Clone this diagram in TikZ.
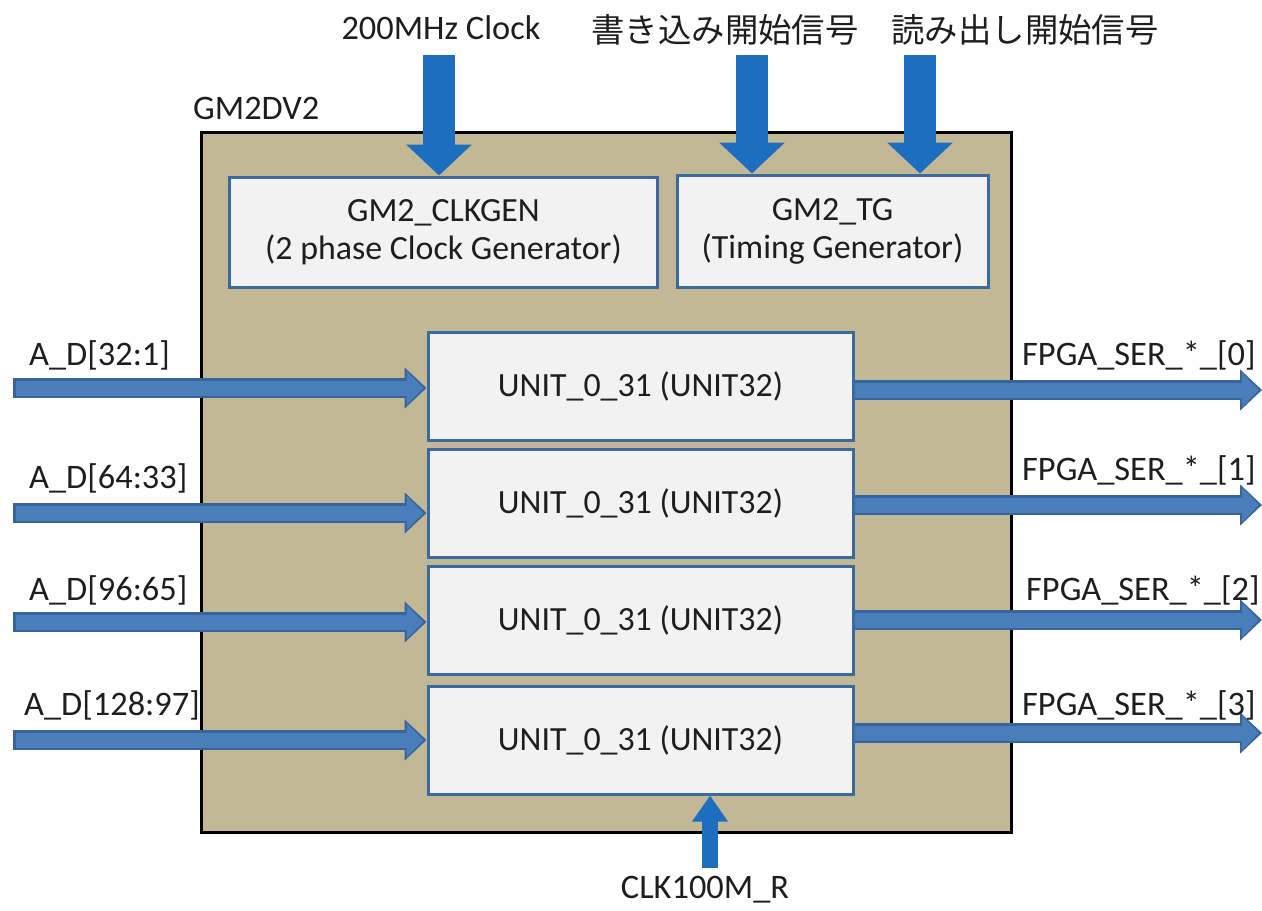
\documentclass[tikz,border=0pt]{standalone}
\usepackage{fontspec}
\setmainfont{Carlito}
\newfontfamily\jp{Noto Sans CJK JP}
\usetikzlibrary{arrows.meta}
\definecolor{tan}{RGB}{194,184,150}
\definecolor{boxfill}{RGB}{242,242,242}
\definecolor{boxline}{RGB}{58,106,160}
\definecolor{harrow}{RGB}{74,126,187}
\definecolor{harrowdk}{RGB}{56,100,156}
\definecolor{varrow}{RGB}{30,110,192}
\definecolor{txt}{RGB}{30,30,30}
\begin{document}
\begin{tikzpicture}[x=1bp,y=-1bp,
  every node/.style={text=txt},
  lbl/.style={font=\fontsize{34.5}{40}\selectfont, inner sep=0pt},
  jlbl/.style={font=\jp\fontsize{33.5}{40}\selectfont, inner sep=0pt},
  subbox/.style={draw=boxline, line width=3bp, fill=boxfill, align=center,
     font=\fontsize{34}{38}\selectfont, inner sep=0pt},
  unitbox/.style={subbox, minimum width=425bp, minimum height=108bp},
  harrout/.style={draw=harrowdk, line width=20bp, -{Triangle[width=40bp,length=22bp]}},
  harr/.style={draw=harrow, line width=15bp, shorten >=3bp, -{Triangle[width=33bp,length=17bp]}},
  varr/.style={draw=varrow, line width=32bp, -{Triangle[width=64bp,length=31bp]}},
  barr/.style={draw=varrow, line width=16bp, -{Triangle[width=34bp,length=26bp]}}
]
\useasboundingbox (0,0) rectangle (1262,911);
% main block
\node[draw=black, line width=3bp, fill=tan, minimum width=809bp, minimum height=699bp, inner sep=0pt] (gm) at (606.5,482.5) {};
\node[lbl, anchor=west] (gmname) at (193,108) {GM2DV2};
% generator boxes
\node[subbox, minimum width=427bp, minimum height=110bp] (clk) at (443.5,232) {GM2\_CLKGEN\\(2 phase Clock Generator)};
\node[subbox, minimum width=311bp, minimum height=112bp] (tg) at (832.5,231) {GM2\_TG\\(Timing Generator)};
% unit boxes
\node[unitbox] (u1) at (640.5,386.5) {UNIT\_0\_31 (UNIT32)};
\node[unitbox] (u2) at (640.5,503.5) {UNIT\_0\_31 (UNIT32)};
\node[unitbox] (u3) at (640.5,620) {UNIT\_0\_31 (UNIT32)};
\node[unitbox] (u4) at (640.5,740) {UNIT\_0\_31 (UNIT32)};
% top inputs
\node[lbl] (l200) at (441,28) {200MHz Clock};
\node[jlbl] (lwr) at (725,30) {書き込み開始信号};
\node[jlbl] (lrd) at (1025,30) {読み出し開始信号};
\coordinate (c200) at (439,55);
\coordinate (cwr) at (752,55);
\coordinate (crd) at (920,55);
\draw[varr] (c200) -- (c200 |- clk.north);
\draw[varr] (cwr) -- (cwr |- tg.north);
\draw[varr] (crd) -- (crd |- tg.north);
% left inputs
\coordinate (in1) at (13,388);
\coordinate (in2) at (13,513);
\coordinate (in3) at (13,622);
\coordinate (in4) at (13,740);
\foreach \i in {1,2,3,4}{
  \draw[harrout] (in\i) -- (u\i.west |- in\i);
  \draw[harr] ([xshift=2.5bp]in\i) -- (u\i.west |- in\i);
}
\node[lbl, anchor=west] (la1) at (29,355) {A\_D[32:1]};
\node[lbl, anchor=west] (la2) at (29,478) {A\_D[64:33]};
\node[lbl, anchor=west] (la3) at (29,590) {A\_D[96:65]};
\node[lbl, anchor=west] (la4) at (24,705) {A\_D[128:97]};
% right outputs
\coordinate (out1) at (1262,390);
\coordinate (out2) at (1262,505);
\coordinate (out3) at (1262,620);
\coordinate (out4) at (1262,733);
\foreach \i in {1,2,3,4}{
  \draw[harrout] (u\i.east |- out\i) -- (out\i);
  \draw[harr] (u\i.east |- out\i) -- (out\i);
}
\node[lbl, anchor=west] (lo1) at (1022,355) {FPGA\_SER\_*\_[0]};
\node[lbl, anchor=west] (lo2) at (1022,470) {FPGA\_SER\_*\_[1]};
\node[lbl, anchor=west] (lo3) at (1026,590) {FPGA\_SER\_*\_[2]};
\node[lbl, anchor=west] (lo4) at (1022,705) {FPGA\_SER\_*\_[3]};
% bottom clock
\coordinate (cbot) at (710,868);
\draw[barr] (cbot) -- (cbot |- u4.south);
\node[lbl] (lclk) at (705,890) {CLK100M\_R};
\end{tikzpicture}
\end{document}
